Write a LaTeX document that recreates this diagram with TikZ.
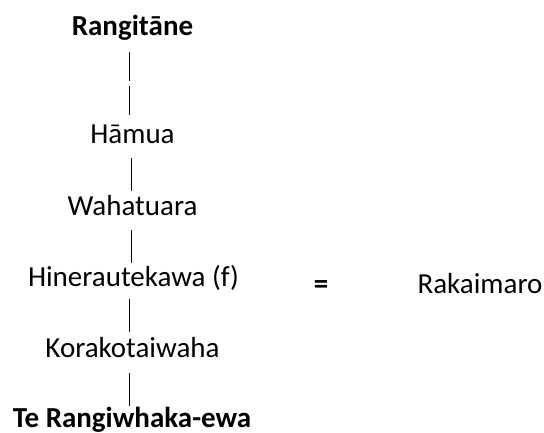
\documentclass[tikz,border=0pt]{standalone}
\usepackage{fontspec}
\setmainfont{Carlito}
\usetikzlibrary{calc}
\begin{document}
\begin{tikzpicture}[x=1pt,y=-1pt,
  pname/.style={inner sep=0pt,anchor=base,font=\fontsize{29}{33}\selectfont},
  bname/.style={pname,font=\fontsize{29}{33}\selectfont\bfseries},
  conn/.style={line width=1.6pt}]
\useasboundingbox (0,0) rectangle (544,432);
\node[bname] (ran) at (132.5,35) {Rangitāne};
\node[pname] (ham) at (132.5,143) {Hāmua};
\node[pname] (wah) at (132.5,215) {Wahatuara};
\node[pname] (hin) at (133.5,286) {Hinerautekawa (f)};
\node[pname] (kor) at (132.5,357) {Korakotaiwaha};
\node[bname] (ter) at (132,427) {Te Rangiwhaka-ewa};
\node[bname] (eq) at (321,293) {=};
\node[pname] (rak) at (480,293) {Rakaimaro};
\draw[conn,dash pattern=on 29pt off 5pt] ($(ran.base)+(-3,17)$) -- ($(ham.base)+(-3,-28)$);
\draw[conn] ($(ham.base)+(-1,15)$) -- ($(wah.base)+(-1,-24)$);
\draw[conn] ($(wah.base)+(-1,15)$) -- ($(hin.base)+(-2,-23)$);
\draw[conn] ($(hin.base)+(-4,13)$) -- ($(kor.base)+(-3,-25)$);
\draw[conn] ($(kor.base)+(-3,16)$) -- ($(ter.base)+(-2.5,-21)$);
\end{tikzpicture}
\end{document}
